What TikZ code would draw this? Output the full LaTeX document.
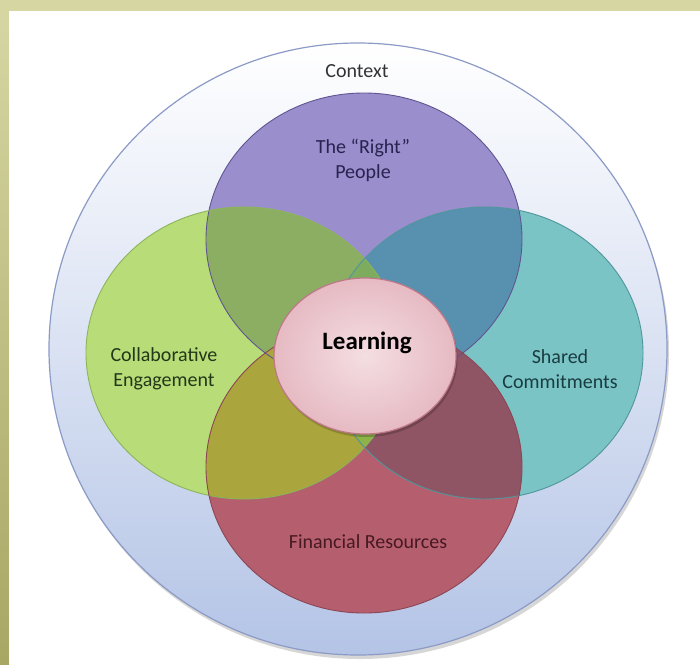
\documentclass[tikz,border=0pt]{standalone}
\usepackage{fontspec}
\setmainfont{Carlito}
\definecolor{oliveTop}{RGB}{214,214,163}
\definecolor{oliveDark}{RGB}{168,167,100}
\definecolor{outerEdge}{RGB}{140,155,198}
\definecolor{outerBot}{RGB}{180,196,230}
\definecolor{outerMid}{RGB}{226,231,243}
\definecolor{purpleC}{RGB}{154,142,204}
\definecolor{greenC}{RGB}{184,221,120}
\definecolor{tealC}{RGB}{123,196,197}
\definecolor{redC}{RGB}{181,95,110}
\definecolor{pgC}{RGB}{140,174,98}
\definecolor{ptC}{RGB}{88,145,176}
\definecolor{grC}{RGB}{170,165,60}
\definecolor{trC}{RGB}{143,85,100}
\definecolor{gtC}{RGB}{125,172,95}
\definecolor{gtrC}{RGB}{140,178,72}
\definecolor{purpleEdge}{RGB}{95,85,145}
\definecolor{greenEdge}{RGB}{140,180,90}
\definecolor{tealEdge}{RGB}{80,150,155}
\definecolor{redEdge}{RGB}{140,70,85}
\definecolor{learnIn}{RGB}{244,222,226}
\definecolor{learnOut}{RGB}{230,186,195}
\definecolor{learnEdge}{RGB}{190,120,135}
\definecolor{txtPurple}{RGB}{40,35,80}
\definecolor{txtGreen}{RGB}{35,55,25}
\definecolor{txtTeal}{RGB}{25,60,65}
\definecolor{txtRed}{RGB}{70,25,35}
\tikzset{
  ellP/.style={insert path={(364,239) ellipse [x radius=158pt, y radius=146pt]}},
  ellG/.style={insert path={(244,353) ellipse [x radius=158pt, y radius=146pt]}},
  ellT/.style={insert path={(485,353) ellipse [x radius=158pt, y radius=146pt]}},
  ellR/.style={insert path={(364,467) ellipse [x radius=158pt, y radius=146pt]}},
  ellL/.style={insert path={(365,356) ellipse [x radius=91pt, y radius=78pt]}},
  ellO/.style={insert path={(358,349) ellipse [x radius=309pt, y radius=306pt]}},
  lbl/.style={align=center, font=\fontsize{20}{25}\selectfont},
}
\begin{document}
\begin{tikzpicture}[x=1pt,y=-1pt]
\useasboundingbox (0,0) rectangle (700,664);
% background frame
\fill[oliveTop] (0,0) rectangle (700,664);
\shade[top color=oliveTop, bottom color=oliveDark] (0,11) rectangle (9,664);
\fill[white] (9,11) rectangle (700,664);
% outer context ellipse
\fill[black!35, opacity=0.45, shift={(2,4)}, ellO];
\shade[top color=white, middle color=outerMid, bottom color=outerBot, ellO];
\draw[outerEdge, line width=1.2pt, ellO];
% base ellipses
\fill[purpleC, ellP];
\fill[greenC, ellG];
\fill[tealC, ellT];
\fill[redC, ellR];
% overlaps
\begin{scope}\clip[ellP];\fill[pgC, ellG];\end{scope}
\begin{scope}\clip[ellP];\fill[ptC, ellT];\end{scope}
\begin{scope}\clip[ellG];\fill[gtC, ellT];\end{scope}
\begin{scope}\clip[ellR];\fill[grC, ellG];\end{scope}
\begin{scope}\clip[ellR];\fill[trC, ellT];\end{scope}
\begin{scope}\clip[ellR];\clip[ellG];\fill[gtrC, ellT];\end{scope}
% outlines
\draw[purpleEdge, line width=0.9pt, ellP];
\draw[greenEdge, line width=0.9pt, ellG];
\draw[tealEdge, line width=0.9pt, ellT];
\draw[redEdge, line width=0.9pt, ellR];
% learning
\fill[black, opacity=0.2, shift={(1.5,3)}, ellL];
\shade[inner color=learnIn, outer color=learnOut, ellL];
\draw[learnEdge, line width=1.2pt, ellL];
% labels
\node[lbl, text=black!80] (context) at (357,71) {Context};
\node[lbl, text=txtPurple] (right) at (363,160) {The “Right”\\People};
\node[lbl, text=txtGreen] (collab) at (164,369) {Collaborative\\Engagement};
\node[lbl, text=txtTeal] (shared) at (560,369) {Shared\\Commitments};
\node[lbl, text=txtRed] (finance) at (368,542) {Financial Resources};
\node[font=\fontsize{25}{30}\selectfont\bfseries, text=black] (learning) at (367,343) {Learning};
\end{tikzpicture}
\end{document}
